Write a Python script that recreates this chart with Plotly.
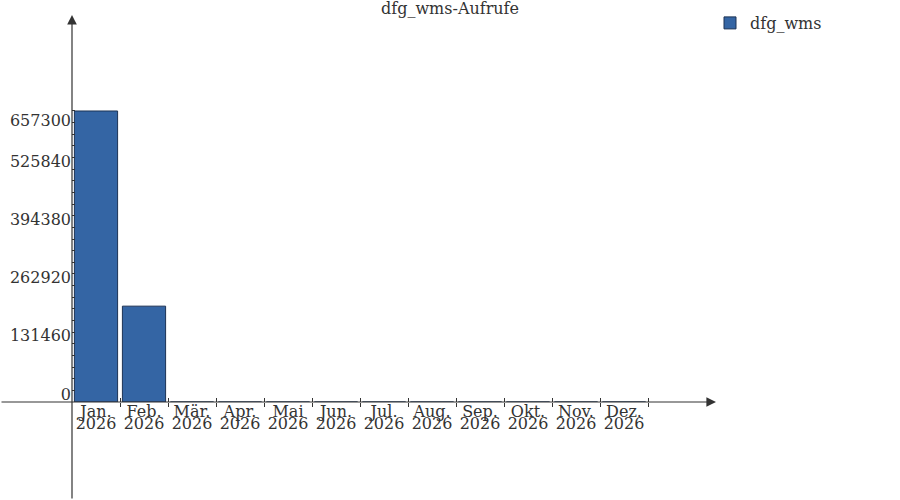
import plotly.graph_objects as go

title = "dfg_wms-Aufrufe"
series_name = "dfg_wms"
months = ["Jan.", "Feb.", "Mär.", "Apr.", "Mai", "Jun.", "Jul.", "Aug.", "Sep.", "Okt.", "Nov.", "Dez."]
years = ["2026"] * 12
values = [657300, 216500, 0, 0, 0, 0, 0, 0, 0, 0, 0, 0]
ytick_values = [0, 131460, 262920, 394380, 525840, 657300]

FONT = "DejaVu Serif"
TXT = "#333333"
BAR = "#3465a4"
EDGE = "#1c3354"

idx = list(range(len(months)))
boundaries = [i + 0.5 for i in idx]
minor_step = ytick_values[1] / 5
minor_vals = [k * minor_step for k in range(5 * (len(ytick_values) - 1) + 1) if k % 5]

fig = go.Figure()
fig.add_trace(go.Bar(
    x=idx, y=values, name=series_name,
    marker=dict(color=BAR, line=dict(color=EDGE, width=1)),
    width=0.9, showlegend=True,
))
# invisible helper traces so the extra label axes get drawn
fig.add_trace(go.Scatter(x=[idx[0]], y=[0], xaxis="x2", yaxis="y",
                         mode="markers", marker=dict(opacity=0),
                         showlegend=False, hoverinfo="skip"))
fig.add_trace(go.Scatter(x=[idx[0]], y=[0], xaxis="x", yaxis="y2",
                         mode="markers", marker=dict(opacity=0),
                         showlegend=False, hoverinfo="skip"))

YMAX = 908000
XR = [-0.5, 16.75]

fig.update_layout(
    width=900, height=500,
    margin=dict(l=72, r=0, t=0, b=98, autoexpand=False),
    paper_bgcolor="white", plot_bgcolor="white",
    font=dict(family=FONT, size=16, color=TXT),
    title=dict(text=title, x=0.5, xref="container", y=1 - 8 / 500, yref="container",
               yanchor="middle", pad=dict(t=0, b=0), automargin=False,
               font=dict(family=FONT, size=16, color=TXT)),
    showlegend=True,
    legend=dict(x=(710 - 72) / 828, y=1 - 6 / 402, xanchor="left", yanchor="top",
                font=dict(family=FONT, size=16, color=TXT), bgcolor="rgba(0,0,0,0)",
                itemwidth=30),
    xaxis=dict(range=XR, tickmode="array", tickvals=idx, ticktext=months,
               ticks="", showgrid=False, zeroline=False, showline=False,
               ticklabelstandoff=-2, automargin=False,
               minor=dict(tickmode="array", tickvals=boundaries, ticks="outside",
                          ticklen=4, tickcolor=TXT, tickwidth=1, showgrid=False),
               fixedrange=True),
    xaxis2=dict(range=XR, overlaying="x", anchor="y", side="bottom",
                tickmode="array", tickvals=idx, ticktext=years,
                ticks="", showgrid=False, zeroline=False, showline=False,
                ticklabelstandoff=10, automargin=False,
                minor=dict(tickmode="array", tickvals=boundaries, ticks="inside",
                           ticklen=4, tickcolor=TXT, tickwidth=1, showgrid=False)),
    yaxis=dict(range=[0, YMAX], tickmode="array", tickvals=ytick_values[:-1],
               tickformat="d", ticks="inside", ticklen=3, tickcolor=TXT,
               showgrid=False, zeroline=False, showline=False, automargin=False,
               ticklabelshift=-8, ticklabelstandoff=0,
               minor=dict(tickmode="array", tickvals=minor_vals, ticks="inside", ticklen=3,
                          tickcolor=TXT, showgrid=False)),
    yaxis2=dict(range=[0, YMAX], overlaying="y", anchor="x", side="left",
                tickmode="array", tickvals=ytick_values[-1:],
                tickformat="d", ticks="inside", ticklen=3, tickcolor=TXT,
                showgrid=False, zeroline=False, showline=False, automargin=False,
                ticklabelshift=9, ticklabelstandoff=0),
    bargap=0.1,
)

# axis lines with arrow heads
fig.add_annotation(x=(716 - 96) / 48, y=0, xref="x", yref="y", ax=-716, ay=0,
                   text="", showarrow=True, arrowhead=2, arrowsize=1.6,
                   arrowwidth=1.2, arrowcolor=TXT, standoff=0)
fig.add_annotation(x=-0.5, y=YMAX * (402 - 15) / 402, xref="x", yref="y", ax=0, ay=485,
                   text="", showarrow=True, arrowhead=2, arrowsize=1.6,
                   arrowwidth=1.2, arrowcolor=TXT, standoff=0)

fig.write_html("out.html", config={"displayModeBar": False},
               post_script="document.body.style.margin='0';")
